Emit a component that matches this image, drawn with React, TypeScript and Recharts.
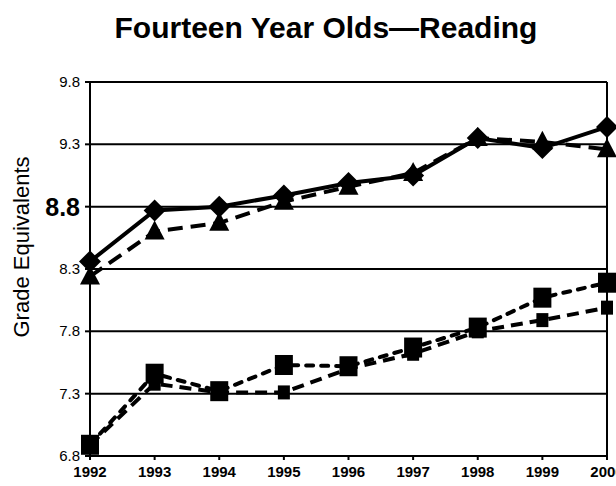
import React from "react";
import {
  CartesianGrid,
  Line,
  LineChart,
  ReferenceLine,
  XAxis,
  YAxis,
} from "recharts";

const years = [1992, 1993, 1994, 1995, 1996, 1997, 1998, 1999, 2000];
const diamondSeries = [8.36, 8.77, 8.8, 8.89, 8.99, 9.05, 9.35, 9.27, 9.44];
const triangleSeries = [8.24, 8.6, 8.67, 8.84, 8.96, 9.07, 9.35, 9.32, 9.26];
const bigSquareSeries = [6.89, 7.46, 7.32, 7.53, 7.52, 7.67, 7.83, 8.07, 8.19];
const smallSquareSeries = [6.89, 7.38, 7.31, 7.31, 7.5, 7.62, 7.8, 7.89, 7.99];
const yTicks = [6.8, 7.3, 7.8, 8.3, 8.8, 9.3, 9.8];

const data = years.map((year, i) => ({
  year,
  diamond: diamondSeries[i],
  triangle: triangleSeries[i],
  bigSquare: bigSquareSeries[i],
  smallSquare: smallSquareSeries[i],
}));

const font = "'Liberation Sans', Arial, sans-serif";

const Diamond = ({ cx, cy }: any) => (
  <path d={`M${cx},${cy - 11} L${cx + 11},${cy} L${cx},${cy + 11} L${cx - 11},${cy} Z`} fill="#000" />
);

const Triangle = ({ cx, cy }: any) => (
  <path d={`M${cx},${cy - 11} L${cx + 10},${cy + 8} L${cx - 10},${cy + 8} Z`} fill="#000" />
);

const BigSquare = ({ cx, cy }: any) => (
  <rect x={cx - 9} y={cy - 10} width={18} height={20} fill="#000" />
);

const SmallSquare = ({ cx, cy }: any) => (
  <rect x={cx - 6} y={cy - 7} width={12} height={14} fill="#000" />
);

// the 8.8 label is much bigger in the original
const YTick = ({ x, y, payload }: any) => {
  const big = payload.value === 8.8;
  return (
    <text
      x={x}
      y={y}
      dy={big ? 9 : 5}
      textAnchor="end"
      fontFamily={font}
      fontSize={big ? 25 : 15}
      fontWeight={big ? "bold" : "normal"}
      fill="#000"
    >
      {payload.value.toFixed(1)}
    </text>
  );
};

export default function App() {
  return (
    <div style={{ position: "absolute", left: 0, top: 0, width: 616, height: 486, background: "#fff" }}>
      <div
        style={{
          position: "absolute",
          left: 18,
          top: 13,
          width: 616,
          textAlign: "center",
          fontFamily: font,
          fontWeight: "bold",
          fontSize: 30,
          lineHeight: "30px",
          whiteSpace: "nowrap",
        }}
      >
        Fourteen Year Olds—Reading
      </div>
      <div
        style={{
          position: "absolute",
          left: 22,
          top: 247,
          transform: "translate(-50%, -50%) rotate(-90deg)",
          whiteSpace: "nowrap",
          fontFamily: font,
          fontSize: 22,
        }}
      >
        Grade Equivalents
      </div>
      <LineChart
        width={616}
        height={486}
        data={data}
        margin={{ top: 82, right: 9, bottom: 0, left: 40 }}
      >
        <CartesianGrid vertical={false} stroke="#000" strokeWidth={2} />
        <XAxis
          dataKey="year"
          type="number"
          domain={[1992, 2000]}
          ticks={years}
          interval={0}
          height={30}
          axisLine={{ stroke: "#000", strokeWidth: 2 }}
          tickLine={{ stroke: "#000", strokeWidth: 2 }}
          tickSize={4}
          tickMargin={6}
          tick={{ fill: "#000", fontFamily: font, fontSize: 15, fontWeight: "bold" }}
        />
        <YAxis
          type="number"
          domain={[6.8, 9.8]}
          ticks={yTicks}
          interval={0}
          width={50}
          axisLine={{ stroke: "#000", strokeWidth: 2 }}
          tickLine={{ stroke: "#000", strokeWidth: 2 }}
          tickSize={5}
          tickMargin={5}
          tick={<YTick />}
        />
        <ReferenceLine x={2000} stroke="#000" strokeWidth={2} />
        <Line
          dataKey="smallSquare"
          stroke="#000"
          strokeWidth={4}
          strokeDasharray="12 7"
          dot={(p: any) => <SmallSquare key={`ss${p.index}`} {...p} />}
          isAnimationActive={false}
        />
        <Line
          dataKey="bigSquare"
          stroke="#000"
          strokeWidth={4}
          strokeDasharray="7 8"
          strokeLinecap="round"
          dot={(p: any) => <BigSquare key={`bs${p.index}`} {...p} />}
          isAnimationActive={false}
        />
        <Line
          dataKey="triangle"
          stroke="#000"
          strokeWidth={4}
          strokeDasharray="15 8"
          dot={(p: any) => <Triangle key={`tr${p.index}`} {...p} />}
          isAnimationActive={false}
        />
        <Line
          dataKey="diamond"
          stroke="#000"
          strokeWidth={4}
          dot={(p: any) => <Diamond key={`di${p.index}`} {...p} />}
          isAnimationActive={false}
        />
      </LineChart>
    </div>
  );
}
